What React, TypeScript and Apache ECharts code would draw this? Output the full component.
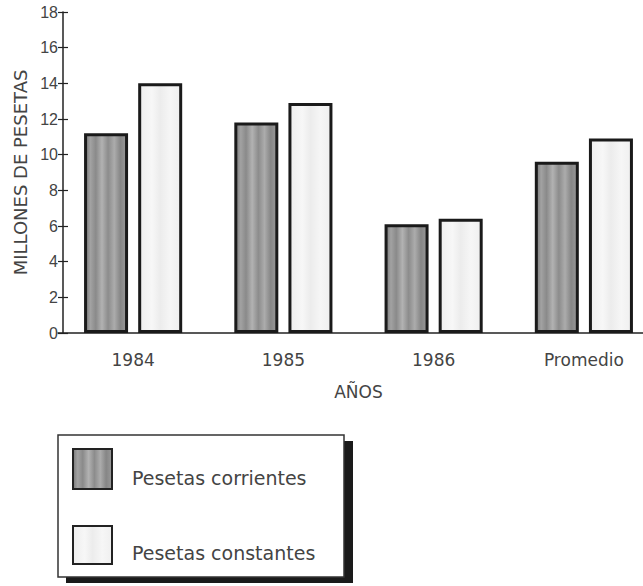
import React, { useEffect, useRef } from "react";
import * as echarts from "echarts";

const categories = ["1984", "1985", "1986", "Promedio"];
const corrientes = [11.2, 11.8, 6.1, 9.6];
const constantes = [14.0, 12.9, 6.4, 10.9];
const seriesNames = ["Pesetas corrientes", "Pesetas constantes"];
const yTicks = { min: 0, max: 18, interval: 2 };

const darkFill = {
  type: "linear",
  x: 0,
  y: 0,
  x2: 1,
  y2: 0,
  colorStops: [
    { offset: 0, color: "#7a7a7a" },
    { offset: 0.12, color: "#a2a2a2" },
    { offset: 0.25, color: "#8a8a8a" },
    { offset: 0.4, color: "#b2b2b2" },
    { offset: 0.55, color: "#8c8c8c" },
    { offset: 0.7, color: "#acacac" },
    { offset: 0.85, color: "#868686" },
    { offset: 1, color: "#9a9a9a" },
  ],
};
const lightFill = {
  type: "linear",
  x: 0,
  y: 0,
  x2: 1,
  y2: 0,
  colorStops: [
    { offset: 0, color: "#eeeeee" },
    { offset: 0.3, color: "#f7f7f7" },
    { offset: 0.5, color: "#ececec" },
    { offset: 0.75, color: "#f6f6f6" },
    { offset: 1, color: "#efefef" },
  ],
};

const textColor = "#444";

export default function App() {
  const ref = useRef<HTMLDivElement>(null);
  useEffect(() => {
    if (!ref.current) return;
    const chart = echarts.init(ref.current, undefined, { renderer: "svg" });
    const legendText = {
      fontFamily: "DejaVu Sans",
      fontSize: 19,
      fill: textColor,
      verticalAlign: "middle",
      align: "left",
    };
    chart.setOption({
      animation: false,
      backgroundColor: "#ffffff",
      grid: {
        left: 58,
        top: 12,
        width: 601,
        height: 321,
        containLabel: false,
        outerBoundsMode: "none",
      },
      xAxis: {
        type: "category",
        data: categories,
        name: "AÑOS",
        nameLocation: "middle",
        nameGap: 50,
        nameTextStyle: { fontFamily: "DejaVu Sans", fontSize: 17, color: textColor },
        axisLine: { lineStyle: { color: "#222", width: 1.5 } },
        axisTick: { show: false },
        axisLabel: { fontFamily: "DejaVu Sans", fontSize: 17, color: textColor, margin: 18 },
      },
      yAxis: [
        {
          type: "value",
          min: yTicks.min,
          max: yTicks.max,
          interval: yTicks.interval,
          offset: -5,
          name: "MILLONES DE PESETAS",
          nameLocation: "middle",
          nameGap: 33,
          nameTextStyle: { fontFamily: "DejaVu Sans", fontSize: 18, color: textColor },
          axisLine: { show: true, lineStyle: { color: "#222", width: 1.5 } },
          axisTick: { show: true, length: 5, lineStyle: { color: "#222", width: 1.2 } },
          splitLine: { show: false },
          axisLabel: { fontFamily: "Liberation Sans", fontSize: 16, color: textColor, margin: 5 },
        },
        {
          type: "value",
          min: yTicks.min,
          max: yTicks.max,
          interval: yTicks.interval,
          position: "left",
          offset: -5,
          axisLine: { show: false },
          axisTick: { show: true, inside: true, length: 5, lineStyle: { color: "#222", width: 1.2 } },
          splitLine: { show: false },
          axisLabel: { show: false },
        },
      ],
      legend: { show: false, data: seriesNames },
      graphic: [
        {
          type: "rect",
          shape: { x: 66, y: 441, width: 287, height: 142 },
          style: { fill: "#1a1a1a" },
          z: -10,
        },
        {
          type: "rect",
          shape: { x: 58, y: 435, width: 286, height: 142 },
          style: { fill: "#ffffff", stroke: "#333", lineWidth: 1.5 },
          z: -9,
        },
        {
          type: "rect",
          shape: { x: 73, y: 449, width: 39, height: 40 },
          style: { fill: darkFill, stroke: "#222", lineWidth: 2 },
        },
        {
          type: "text",
          x: 132,
          y: 478,
          style: { ...legendText, text: seriesNames[0] },
        },
        {
          type: "rect",
          shape: { x: 73, y: 526, width: 39, height: 38 },
          style: { fill: lightFill, stroke: "#222", lineWidth: 2 },
        },
        {
          type: "text",
          x: 132,
          y: 553,
          style: { ...legendText, text: seriesNames[1] },
        },
      ],
      series: [
        {
          name: seriesNames[0],
          type: "bar",
          data: corrientes,
          barWidth: 44,
          barGap: "23%",
          itemStyle: { color: darkFill, borderColor: "#1a1a1a", borderWidth: 3 },
        },
        {
          name: seriesNames[1],
          type: "bar",
          data: constantes,
          barWidth: 44,
          itemStyle: { color: lightFill, borderColor: "#1a1a1a", borderWidth: 3 },
        },
      ],
    });
    return () => chart.dispose();
  }, []);
  return (
    <div
      ref={ref}
      style={{ position: "fixed", left: 0, top: 0, width: 643, height: 586, background: "#fff" }}
    />
  );
}
